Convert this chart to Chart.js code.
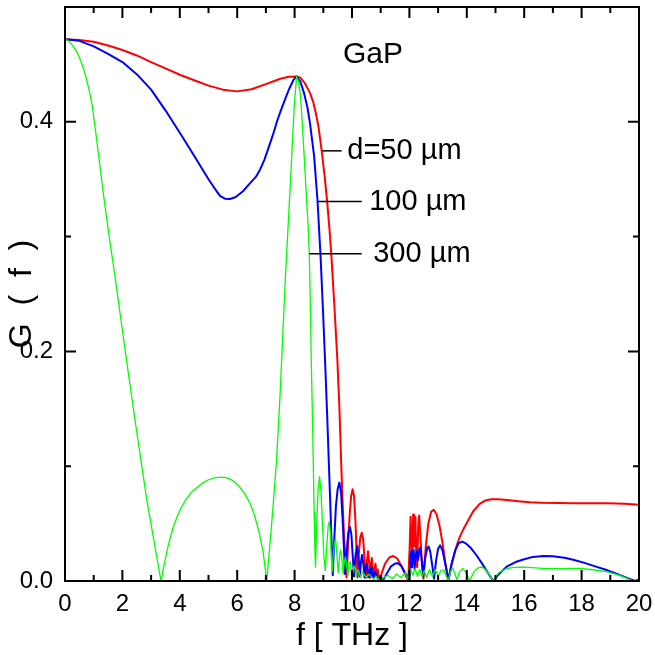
<!DOCTYPE html>
<html><head><meta charset="utf-8">
<script src="https://cdn.jsdelivr.net/npm/chart.js@4"></script>
<style>html,body{margin:0;padding:0;background:#fff;}canvas{display:block}</style>
</head><body>
<canvas id="c" width="655" height="655"></canvas>
<script>
// ---- data: f in THz, G(f) ----
const fRed = [0,0.5,1.0,1.5,2.0,2.5,3.0,3.5,4.0,4.5,5.0,5.5,6.0,6.5,7.0,7.5,7.8,8.07,8.2,8.35,8.54,8.65,8.74,8.83,8.94,9.05,9.14,9.22,9.29,9.39,9.49,9.56,9.62,9.67,9.72,9.77,9.81,9.86,9.92,9.97,10.02,10.07,10.12,10.16,10.19,10.23,10.29,10.34,10.39,10.44,10.49,10.52,10.56,10.6,10.63,10.66,10.69,10.73,10.76,10.79,10.82,10.86,10.9,10.94,10.98,11.05,11.15,11.3,11.44,11.58,11.72,11.85,11.96,12.01,12.04,12.07,12.1,12.13,12.16,12.19,12.21,12.24,12.27,12.31,12.34,12.38,12.43,12.49,12.57,12.66,12.76,12.85,12.95,13.05,13.15,13.25,13.36,13.45,13.55,13.65,13.76,13.9,14.05,14.23,14.45,14.65,14.85,15.1,15.4,15.8,16.2,16.6,17.2,17.7,18.3,18.9,19.5,20];
const gRed = [0.472,0.4712,0.4697,0.4665,0.4625,0.4578,0.452,0.4465,0.441,0.4362,0.4315,0.428,0.4265,0.4283,0.4328,0.4375,0.4392,0.4395,0.4385,0.434,0.425,0.417,0.4075,0.396,0.3756,0.352,0.329,0.305,0.28,0.238,0.1926,0.152,0.1054,0.07,0.04,0.018,0.003,0.03,0.058,0.074,0.080,0.074,0.052,0.025,0.003,0.022,0.038,0.042,0.036,0.018,0.003,0.017,0.026,0.015,0.003,0.014,0.02,0.008,0.002,0.012,0.015,0.004,0.01,0.003,0.002,0.008,0.015,0.0205,0.0218,0.0195,0.013,0.006,0.0,0.03,0.056,0.035,0.018,0.058,0.03,0.05,0.056,0.02,0.012,0.05,0.057,0.04,0.018,0.002,0.03,0.05,0.0605,0.062,0.058,0.048,0.034,0.016,0.0,0.012,0.022,0.031,0.0386,0.046,0.053,0.061,0.0672,0.0702,0.0712,0.0712,0.0706,0.0695,0.0687,0.0682,0.0679,0.0677,0.0678,0.0677,0.0672,0.0665];

const fBlue = [0,0.5,1.0,1.5,2.0,2.5,3.0,3.5,4.0,4.5,5.0,5.2,5.4,5.57,5.75,5.95,6.2,6.45,6.65,6.8,6.95,7.1,7.25,7.37,7.5,7.65,7.8,7.95,8.07,8.2,8.33,8.45,8.54,8.68,8.8,8.91,8.99,9.06,9.13,9.19,9.24,9.28,9.31,9.33,9.38,9.44,9.5,9.56,9.62,9.67,9.72,9.76,9.81,9.87,9.93,9.98,10.03,10.07,10.12,10.18,10.23,10.27,10.31,10.35,10.4,10.44,10.48,10.52,10.57,10.6,10.64,10.68,10.72,10.76,10.8,10.84,10.9,11.0,11.09,11.2,11.35,11.5,11.6,11.72,11.85,12.0,12.03,12.06,12.09,12.12,12.15,12.18,12.22,12.26,12.3,12.35,12.38,12.43,12.48,12.55,12.62,12.67,12.73,12.8,12.86,12.93,13.0,13.07,13.15,13.25,13.36,13.47,13.6,13.72,13.84,13.98,14.15,14.35,14.55,14.75,14.92,15.1,15.39,15.7,15.97,16.3,16.67,17.0,17.4,17.71,18.1,18.5,18.87,19.3,19.6,19.86,20];
const gBlue = [0.472,0.4705,0.4657,0.4592,0.452,0.4415,0.428,0.41,0.3905,0.3705,0.35,0.3425,0.3355,0.333,0.3328,0.3345,0.3395,0.3466,0.352,0.3585,0.367,0.378,0.389,0.399,0.4085,0.4185,0.428,0.436,0.4395,0.435,0.425,0.412,0.398,0.37,0.331,0.28,0.235,0.193,0.148,0.105,0.07,0.04,0.018,0.005,0.035,0.065,0.08,0.0857,0.077,0.055,0.028,0.006,0.025,0.042,0.047,0.04,0.02,0.004,0.022,0.0305,0.02,0.004,0.016,0.0227,0.014,0.003,0.012,0.015,0.006,0.003,0.01,0.012,0.004,0.003,0.008,0.006,0.002,0.004,0.001,0.006,0.0125,0.0152,0.0155,0.013,0.007,0.001,0.018,0.026,0.012,0.024,0.027,0.01,0.022,0.026,0.018,0.028,0.029,0.018,0.004,0.02,0.029,0.03,0.025,0.013,0.002,0.018,0.028,0.031,0.027,0.015,0.001,0.015,0.027,0.033,0.0343,0.0325,0.0285,0.022,0.0145,0.0065,0.0,0.0055,0.0125,0.0165,0.0187,0.021,0.0218,0.0215,0.0203,0.0185,0.0158,0.0125,0.0096,0.0055,0.0025,0.0,0.0015];

const fGreen = [0,0.1,0.2,0.3,0.41,0.52,0.62,0.72,0.8,0.88,0.95,1.05,1.2,1.36,1.5,1.8,2.1,2.44,2.85,3.1,3.345,3.45,3.55,3.66,3.77,3.9,4.05,4.2,4.4,4.6,4.8,5.0,5.2,5.45,5.65,5.85,6.05,6.25,6.45,6.6,6.75,6.9,7.03,7.15,7.25,7.37,7.5,7.67,7.85,7.99,8.07,8.14,8.21,8.3,8.4,8.47,8.51,8.55,8.58,8.62,8.65,8.68,8.71,8.73,8.77,8.82,8.87,8.92,8.97,9.02,9.07,9.12,9.17,9.21,9.25,9.29,9.31,9.35,9.4,9.43,9.47,9.52,9.56,9.6,9.64,9.69,9.73,9.77,9.81,9.86,9.9,9.94,9.98,10.02,10.06,10.1,10.15,10.2,10.25,10.3,10.36,10.42,10.5,10.58,10.66,10.75,10.85,10.95,11.1,11.25,11.4,11.55,11.7,11.85,11.95,12.05,12.12,12.2,12.28,12.36,12.44,12.52,12.6,12.7,12.8,12.9,13.0,13.1,13.2,13.3,13.36,13.43,13.5,13.58,13.65,13.75,13.86,13.98,14.1,14.25,14.4,14.52,14.65,14.8,14.92,15.1,15.35,15.62,16.0,16.4,16.78,17.3,17.94,18.4,18.87,19.3,19.6,19.8,20];
const gGreen = [0.472,0.471,0.4685,0.465,0.461,0.455,0.448,0.44,0.432,0.423,0.414,0.395,0.365,0.333,0.307,0.255,0.2,0.14,0.0706,0.035,0.0,0.0135,0.026,0.037,0.047,0.0555,0.064,0.0705,0.077,0.0815,0.0855,0.0882,0.0898,0.0905,0.0898,0.0875,0.083,0.0765,0.0675,0.0575,0.044,0.026,0.0,0.035,0.065,0.105,0.165,0.26,0.345,0.415,0.4395,0.435,0.422,0.385,0.34,0.31,0.2856,0.24,0.193,0.145,0.105,0.06,0.025,0.012,0.05,0.08,0.091,0.078,0.05,0.022,0.009,0.03,0.048,0.052,0.04,0.015,0.008,0.025,0.035,0.036,0.024,0.007,0.02,0.027,0.022,0.006,0.016,0.021,0.014,0.005,0.015,0.017,0.008,0.006,0.013,0.011,0.004,0.01,0.008,0.003,0.008,0.006,0.003,0.006,0.004,0.002,0.004,0.001,0.003,0.005,0.002,0.006,0.003,0.007,0.002,0.01,0.005,0.011,0.004,0.01,0.004,0.009,0.003,0.01,0.004,0.01,0.004,0.009,0.0096,0.003,0.001,0.008,0.0113,0.007,0.001,0.008,0.011,0.007,0.0,0.008,0.0115,0.0122,0.01,0.005,0.0,0.007,0.0105,0.0119,0.012,0.0115,0.0107,0.0108,0.011,0.0098,0.0081,0.0052,0.002,0.0,0.001];

const seriesNames = ['d=50 \u00b5m', '100 \u00b5m', '300 \u00b5m'];
const xTickValues = [0,2,4,6,8,10,12,14,16,18,20];
const xTickLabels = ['0','2','4','6','8','10','12','14','16','18','20'];
const xMinorValues = [1,3,5,7,9,11,13,15,17,19];
const yTickValues = [0,0.2,0.4];
const yTickLabels = ['0.0','0.2','0.4'];
const yMinorValues = [0.1,0.3];
const materialLabel = 'GaP';

// annotation anchors in data units (f, G)
const annot = [
  {text: seriesNames[0], g: 0.3747, f0: 8.965, f1: 9.64, ft: 9.836},
  {text: seriesNames[1], g: 0.3305, f0: 8.826, f1: 10.338, ft: 10.60},
  {text: seriesNames[2], g: 0.2850, f0: 8.512, f1: 10.338, ft: 10.74}
];
const materialPos = {f: 9.686, g: 0.4587};

const FONT = "'Liberation Sans', Arial, Helvetica, sans-serif";
Chart.defaults.font.family = FONT;
Chart.defaults.color = '#000';

const toPts = (fs, gs) => fs.map((f, i) => ({x: f, y: gs[i]}));

const framePlugin = {
  id: 'frame',
  afterDatasetsDraw(chart) {
    const {ctx, chartArea: a, scales: {x, y}} = chart;
    ctx.save();
    ctx.strokeStyle = '#000';
    ctx.lineWidth = 2;
    ctx.strokeRect(a.left, a.top, a.right - a.left, a.bottom - a.top);
    ctx.beginPath();
    const major = 11, minor = 6;
    xTickValues.forEach(v => { const px = x.getPixelForValue(v);
      ctx.moveTo(px, a.bottom); ctx.lineTo(px, a.bottom - major);
      ctx.moveTo(px, a.top); ctx.lineTo(px, a.top + major); });
    xMinorValues.forEach(v => { const px = x.getPixelForValue(v);
      ctx.moveTo(px, a.bottom); ctx.lineTo(px, a.bottom - minor);
      ctx.moveTo(px, a.top); ctx.lineTo(px, a.top + minor); });
    yTickValues.forEach(v => { const py = y.getPixelForValue(v);
      ctx.moveTo(a.left, py); ctx.lineTo(a.left + major, py);
      ctx.moveTo(a.right, py); ctx.lineTo(a.right - major, py); });
    yMinorValues.forEach(v => { const py = y.getPixelForValue(v);
      ctx.moveTo(a.left, py); ctx.lineTo(a.left + minor, py);
      ctx.moveTo(a.right, py); ctx.lineTo(a.right - minor, py); });
    ctx.stroke();
    ctx.restore();
  }
};

const annotPlugin = {
  id: 'annot',
  afterDatasetsDraw(chart) {
    const {ctx, scales: {x, y}} = chart;
    ctx.save();
    ctx.strokeStyle = '#000';
    ctx.fillStyle = '#000';
    ctx.lineWidth = 1.5;
    ctx.font = '29px ' + FONT;
    ctx.textAlign = 'left';
    ctx.textBaseline = 'middle';
    annot.forEach(a => {
      const py = y.getPixelForValue(a.g);
      ctx.beginPath();
      ctx.moveTo(x.getPixelForValue(a.f0), py);
      ctx.lineTo(x.getPixelForValue(a.f1), py);
      ctx.stroke();
      ctx.fillText(a.text, x.getPixelForValue(a.ft), py);
    });
    ctx.font = '30px ' + FONT;
    ctx.fillText(materialLabel, x.getPixelForValue(materialPos.f), y.getPixelForValue(materialPos.g));
    ctx.restore();
  }
};

function zeroPad(s) { s.paddingTop = 0; s.paddingBottom = 0; s.paddingLeft = 0; s.paddingRight = 0; }

new Chart(document.getElementById('c'), {
  type: 'line',
  data: {
    datasets: [
      {label: seriesNames[0], data: toPts(fRed, gRed), borderColor: '#ff0000', borderWidth: 2, pointRadius: 0, tension: 0, borderJoinStyle: 'round', order: 2},
      {label: seriesNames[1], data: toPts(fBlue, gBlue), borderColor: '#0000ff', borderWidth: 2, pointRadius: 0, tension: 0, borderJoinStyle: 'round', order: 1},
      {label: seriesNames[2], data: toPts(fGreen, gGreen), borderColor: '#00ff00', borderWidth: 1.3, pointRadius: 0, tension: 0, borderJoinStyle: 'round', order: 0}
    ]
  },
  options: {
    responsive: false,
    animation: false,
    devicePixelRatio: 1,
    layout: {padding: {top: 7, right: 16, left: 0, bottom: 0}},
    plugins: {legend: {display: false}, tooltip: {enabled: false}},
    scales: {
      x: {
        type: 'linear', min: 0, max: 20,
        afterFit(s) { s.height = 74; zeroPad(s); },
        grid: {display: false, drawTicks: false},
        border: {display: false},
        ticks: {
          stepSize: 2, padding: 9, maxRotation: 0, autoSkip: false,
          font: {size: 24, family: FONT}, color: '#000',
          callback(v) { const i = xTickValues.findIndex(t => Math.abs(t - v) < 1e-9); return i >= 0 ? xTickLabels[i] : ''; }
        },
        title: {display: true, text: 'f [ THz ]', font: {size: 32, family: FONT}, color: '#000', padding: {top: 0, bottom: 0}}
      },
      y: {
        type: 'linear', min: 0, max: 0.5,
        afterFit(s) { s.width = 65; zeroPad(s); },
        grid: {display: false, drawTicks: false},
        border: {display: false},
        ticks: {
          stepSize: 0.2, padding: 12, autoSkip: false,
          font: {size: 24, family: FONT}, color: '#000',
          callback(v) { const i = yTickValues.findIndex(t => Math.abs(t - v) < 1e-9); return i >= 0 ? yTickLabels[i] : ''; }
        },
        title: {display: true, text: 'G  (  f  )', font: {size: 32, family: FONT}, color: '#000', padding: {top: 3, bottom: 0}}
      }
    }
  },
  plugins: [framePlugin, annotPlugin]
});
</script>
</body></html>
